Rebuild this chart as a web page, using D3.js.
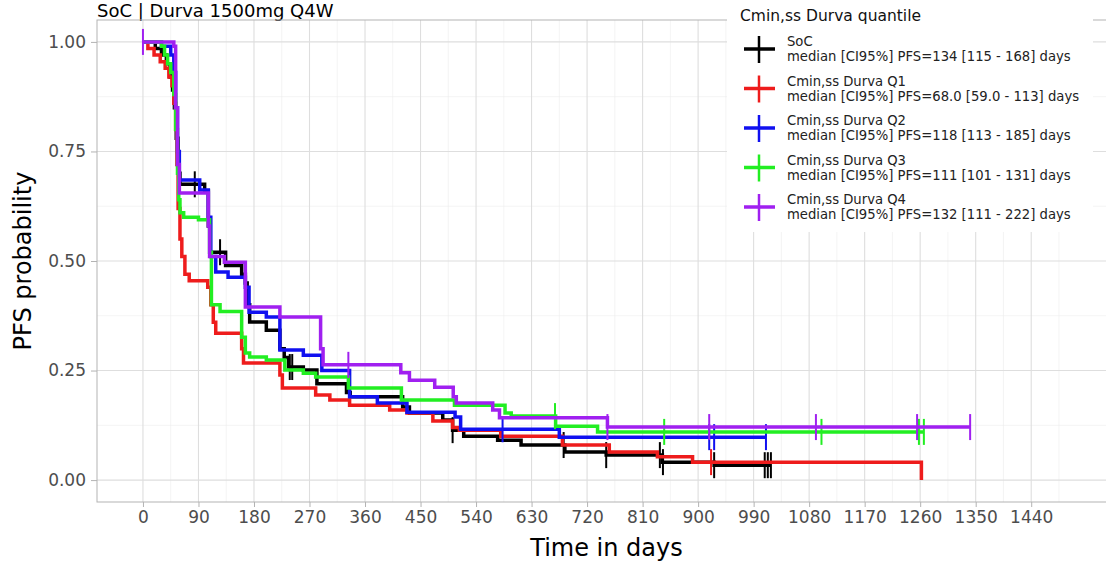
<!DOCTYPE html>
<html>
<head>
<meta charset="utf-8">
<script src="https://cdn.jsdelivr.net/npm/d3@7"></script>
<style>
  body { margin: 0; background: #fff; }
  svg { display: block; font-family: "DejaVu Sans", sans-serif; }
</style>
</head>
<body>
<div class="viewport"></div>
<script>
// Kaplan-Meier steps: [day, survival after the step]
var socSteps = [[0,1],[20,0.985],[30,0.97],[38,0.95],[44,0.92],[48,0.89],[51,0.85],[54,0.78],[57,0.70],[60,0.675],
    [100,0.66],[106,0.58],[109,0.52],[134,0.49],[160,0.47],[166,0.45],[169,0.40],[173,0.361],[200,0.342],[222,0.30],
    [229,0.28],[236,0.258],[260,0.251],[282,0.22],[330,0.20],[336,0.19],[421,0.167],[432,0.153],[486,0.137],[502,0.114],
    [520,0.10],[575,0.091],[613,0.08],[684,0.064],[751,0.057],[842,0.041],[926,0.034]];
var q1Steps = [[0,1],[8,0.985],[18,0.97],[28,0.955],[36,0.94],[42,0.92],[47,0.90],[50,0.86],[53,0.80],[55,0.72],
    [57,0.62],[60,0.55],[63,0.51],[68,0.47],[75,0.455],[105,0.44],[110,0.40],[114,0.36],[118,0.335],[160,0.30],
    [163,0.267],[222,0.24],[226,0.21],[280,0.194],[303,0.183],[335,0.171],[400,0.16],[428,0.153],[470,0.135],
    [502,0.12],[513,0.114],[580,0.10],[680,0.08],[756,0.064],[834,0.053],[891,0.041],[1262,0]];
var q2Steps = [[0,1],[30,0.99],[45,0.97],[50,0.93],[53,0.85],[56,0.75],[59,0.685],[92,0.662],[106,0.60],[110,0.51],
    [118,0.475],[138,0.463],[166,0.44],[172,0.383],[200,0.372],[222,0.297],[260,0.285],[290,0.25],[335,0.19],
    [380,0.176],[428,0.155],[506,0.144],[515,0.116],[675,0.098]];
var q3Steps = [[0,1],[30,0.99],[35,0.97],[40,0.95],[45,0.93],[50,0.88],[53,0.80],[56,0.70],[58,0.64],[60,0.61],
    [66,0.60],[90,0.594],[108,0.52],[111,0.40],[125,0.385],[160,0.326],[166,0.29],[173,0.281],[200,0.274],[230,0.251],
    [260,0.244],[280,0.235],[333,0.21],[419,0.183],[505,0.171],[587,0.153],[597,0.146],[669,0.123],[737,0.11]];
var q4Steps = [[0,1],[50,0.99],[53,0.85],[56,0.72],[59,0.655],[106,0.58],[108,0.51],[132,0.497],[166,0.395],
    [222,0.372],[288,0.30],[292,0.263],[418,0.245],[432,0.228],[473,0.212],[503,0.19],[508,0.176],[567,0.16],
    [578,0.142],[753,0.121]];

// last follow-up day of each curve
var endDays = [1018, 1262, 1010, 1266, 1341];

// censoring marks (days)
var socCensor = [84, 125, 238, 242, 502, 682, 751, 838, 843, 926, 1008, 1013, 1018];
var q1Censor = [921];
var q2Censor = [583, 918, 926, 1010];
var q3Censor = [668, 845, 1100, 1258, 1266];
var q4Censor = [0, 333, 753, 918, 1091, 1255, 1341];

var seriesNames = ["SoC", "Cmin,ss Durva Q1", "Cmin,ss Durva Q2", "Cmin,ss Durva Q3", "Cmin,ss Durva Q4"];
var medianLabels = [
    "median [CI95%] PFS=134 [115 - 168] days",
    "median [CI95%] PFS=68.0 [59.0 - 113] days",
    "median [CI95%] PFS=118 [113 - 185] days",
    "median [CI95%] PFS=111 [101 - 131] days",
    "median [CI95%] PFS=132 [111 - 222] days"
];
var seriesColors = ["#000000", "#ee1c1c", "#1010f0", "#22ee22", "#a020f0"];

var xTicks = d3.range(0, 1441, 90);
var xMinor = d3.range(45, 1490, 90);
var yTicks = [0, 0.25, 0.5, 0.75, 1];
var yMinor = [0.125, 0.375, 0.625, 0.875];

function letsGo() {

    var width = 1106,
        height = 562;

    var panel = { left: 97, right: 1108, top: 20, bottom: 502 };

    var svg = d3.select(".viewport").append("svg")
        .attr("width", width)
        .attr("height", height);

    var x = d3.scaleLinear().domain([-74.5, 1564.5]).range([panel.left, panel.right]);
    var y = d3.scaleLinear().domain([-0.05, 1.05]).range([panel.bottom, panel.top]);

    // title (sits right at the top edge)
    svg.append("text")
        .attr("x", 97).attr("y", 17)
        .attr("font-size", 18)
        .attr("fill", "#000")
        .text("SoC | Durva 1500mg Q4W");

    // grid
    var grid = svg.append("g");
    grid.selectAll(".xmin").data(xMinor).enter().append("line")
        .attr("x1", x).attr("x2", x).attr("y1", panel.top).attr("y2", panel.bottom)
        .attr("stroke", "#ececec").attr("stroke-width", 0.6);
    grid.selectAll(".ymin").data(yMinor).enter().append("line")
        .attr("y1", y).attr("y2", y).attr("x1", panel.left).attr("x2", panel.right)
        .attr("stroke", "#ececec").attr("stroke-width", 0.6);
    grid.selectAll(".xmaj").data(xTicks).enter().append("line")
        .attr("x1", x).attr("x2", x).attr("y1", panel.top).attr("y2", panel.bottom)
        .attr("stroke", "#dedede").attr("stroke-width", 1.1);
    grid.selectAll(".ymaj").data(yTicks).enter().append("line")
        .attr("y1", y).attr("y2", y).attr("x1", panel.left).attr("x2", panel.right)
        .attr("stroke", "#dedede").attr("stroke-width", 1.1);

    // curves
    var line = d3.line()
        .x(function(d) { return x(d[0]); })
        .y(function(d) { return y(d[1]); })
        .curve(d3.curveStepAfter);

    var allSteps = [socSteps, q1Steps, q2Steps, q3Steps, q4Steps];
    var allCensor = [socCensor, q1Censor, q2Censor, q3Censor, q4Censor];

    function survAt(steps, t) {
        var s = steps[0][1];
        steps.forEach(function(p) { if (p[0] <= t) { s = p[1]; } });
        return s;
    }

    allSteps.forEach(function(steps, i) {
        var last = steps[steps.length - 1];
        var pts = steps.slice();
        if (endDays[i] > last[0]) { pts.push([endDays[i], last[1]]); }
        svg.append("path")
            .attr("d", line(pts))
            .attr("fill", "none")
            .attr("stroke", seriesColors[i])
            .attr("stroke-width", 3.5);

        svg.append("g").selectAll("line").data(allCensor[i]).enter().append("line")
            .attr("x1", function(d) { return x(d); })
            .attr("x2", function(d) { return x(d); })
            .attr("y1", function(d) { return y(survAt(steps, d)) - 13; })
            .attr("y2", function(d) { return y(survAt(steps, d)) + 13; })
            .attr("stroke", seriesColors[i])
            .attr("stroke-width", 2);
    });

    // panel border
    svg.append("rect")
        .attr("x", panel.left).attr("y", panel.top)
        .attr("width", panel.right - panel.left).attr("height", panel.bottom - panel.top)
        .attr("fill", "none").attr("stroke", "#b3b3b3").attr("stroke-width", 1);

    // axes
    var xAxis = svg.append("g")
        .attr("transform", "translate(0," + panel.bottom + ")")
        .call(d3.axisBottom(x).tickValues(xTicks).tickSize(5).tickPadding(4).tickFormat(d3.format("d")));
    var yAxis = svg.append("g")
        .attr("transform", "translate(" + panel.left + ",0)")
        .call(d3.axisLeft(y).tickValues(yTicks).tickSize(6).tickPadding(5).tickFormat(d3.format(".2f")));

    [xAxis, yAxis].forEach(function(ax) {
        ax.select(".domain").remove();
        ax.selectAll(".tick line").attr("stroke", "#b3b3b3");
        ax.selectAll(".tick text")
            .attr("fill", "#4d4d4d")
            .attr("font-size", 17)
            .attr("font-family", "DejaVu Sans, sans-serif");
    });

    svg.append("text")
        .attr("x", (panel.left + panel.right) / 2 + 4).attr("y", 556)
        .attr("text-anchor", "middle")
        .attr("font-size", 24)
        .text("Time in days");

    svg.append("text")
        .attr("transform", "translate(31," + ((panel.top + panel.bottom) / 2) + ") rotate(-90)")
        .attr("text-anchor", "middle")
        .attr("font-size", 24)
        .text("PFS probability");

    // legend
    var lg = svg.append("g");
    lg.append("rect")
        .attr("x", 727).attr("y", 2).attr("width", 366).attr("height", 230)
        .attr("fill", "#fff");
    lg.append("text")
        .attr("x", 740).attr("y", 21)
        .attr("font-size", 15.5)
        .attr("fill", "#111")
        .text("Cmin,ss Durva quantile");

    var item = lg.selectAll(".item").data(seriesNames).enter().append("g")
        .attr("transform", function(d, i) { return "translate(0," + (49 + i * 39.5) + ")"; });
    item.append("line")
        .attr("x1", 744).attr("x2", 775).attr("y1", 0).attr("y2", 0)
        .attr("stroke", function(d, i) { return seriesColors[i]; })
        .attr("stroke-width", 3.5);
    item.append("line")
        .attr("x1", 759).attr("x2", 759).attr("y1", -13).attr("y2", 14)
        .attr("stroke", function(d, i) { return seriesColors[i]; })
        .attr("stroke-width", 2.5);
    item.append("text")
        .attr("x", 787).attr("y", -3)
        .attr("font-size", 13.2)
        .attr("fill", "#222")
        .text(function(d) { return d; });
    item.append("text")
        .attr("x", 787).attr("y", 12)
        .attr("font-size", 13.2)
        .attr("fill", "#222")
        .text(function(d, i) { return medianLabels[i]; });
}

letsGo();
</script>
</body>
</html>
